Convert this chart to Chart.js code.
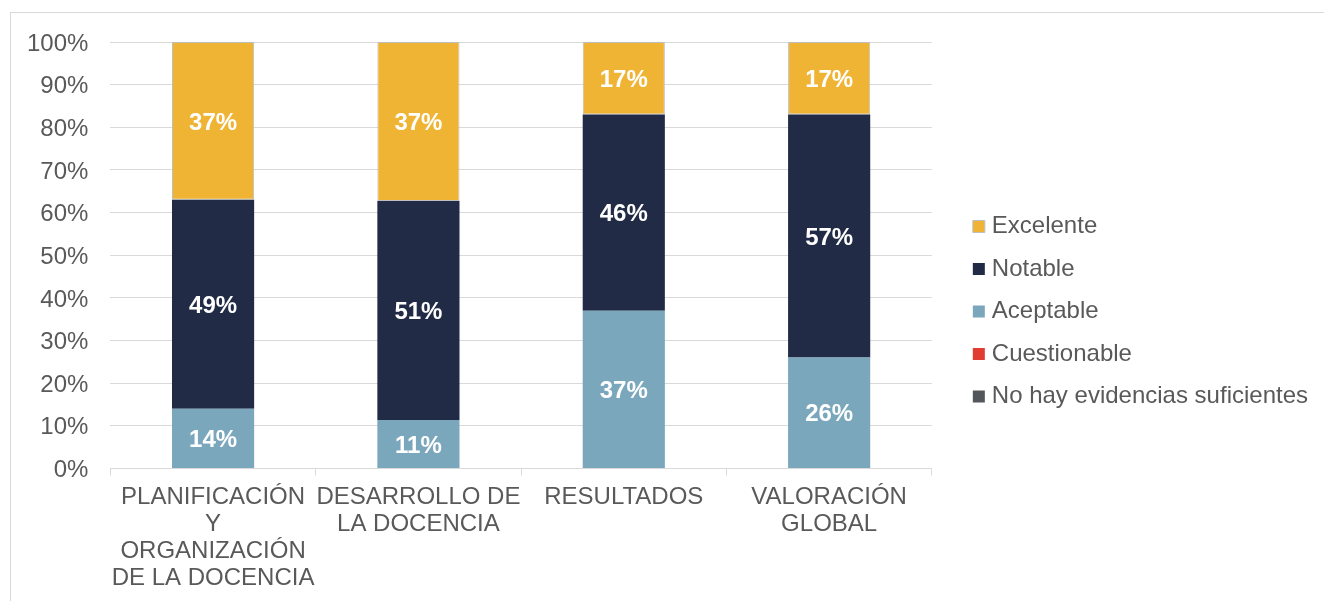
<!DOCTYPE html>
<html>
<head>
<meta charset="utf-8">
<script src="https://cdn.jsdelivr.net/npm/chart.js@4.4.1/dist/chart.umd.min.js"></script>
<style>
  body { margin: 0; background: #fff; }
  #frame { position: absolute; left: 10px; top: 12px; width: 1400px; height: 700px; border: 1px solid #d9d9d9; }
  #myChart { position: absolute; left: 0; top: 0; }
</style>
</head>
<body>
<div id="frame"></div>
<canvas id="myChart" width="1324" height="601"></canvas>
<script>
const categories = [
  ["PLANIFICACIÓN", "Y", "ORGANIZACIÓN", "DE LA DOCENCIA"],
  ["DESARROLLO DE", "LA DOCENCIA"],
  ["RESULTADOS"],
  ["VALORACIÓN", "GLOBAL"],
];
// percent of answers per level
const noHay = [0, 0, 0, 0];
const cuestionable = [0, 0, 0, 0];
const aceptable = [14, 11.4, 37, 26];
const notable = [49, 51.3, 46, 57];
const excelente = [37, 37.3, 17, 17];
const yTicks = [0, 10, 20, 30, 40, 50, 60, 70, 80, 90, 100];

const gray = "#595959";
const font = { family: "'Liberation Sans', Arial, sans-serif", size: 24 };

// white % labels in the middle of each segment
const barLabels = {
  id: "barLabels",
  afterDatasetsDraw(chart) {
    const ctx = chart.ctx;
    ctx.save();
    ctx.fillStyle = "#fff";
    ctx.font = "bold 24px 'Liberation Sans', Arial, sans-serif";
    ctx.textAlign = "center";
    ctx.textBaseline = "middle";
    chart.data.datasets.forEach((ds, i) => {
      const meta = chart.getDatasetMeta(i);
      meta.data.forEach((bar, j) => {
        const v = ds.data[j];
        if (!v) return;
        ctx.fillText(Math.round(v) + "%", bar.x, (bar.y + bar.base) / 2 + 2);
      });
    });
    ctx.restore();
  },
};

const ctx = document.getElementById("myChart");
new Chart(ctx, {
  type: "bar",
  data: {
    labels: categories,
    datasets: [
      { label: "No hay evidencias suficientes", data: noHay, backgroundColor: "#53565a", borderWidth: 0 },
      { label: "Cuestionable", data: cuestionable, backgroundColor: "#e03c31", borderWidth: 0 },
      { label: "Aceptable", data: aceptable, backgroundColor: "#7ba7bd", borderWidth: 0 },
      { label: "Notable", data: notable, backgroundColor: "#212b46", borderWidth: 0 },
      { label: "Excelente", data: excelente, backgroundColor: "#f0b434", borderColor: "#bfbfbf", borderWidth: 1, borderSkipped: false },
    ],
  },
  options: {
    responsive: false,
    animation: false,
    barPercentage: 0.4,
    categoryPercentage: 1,
    layout: { padding: { top: 22.5, left: 5, right: 6, bottom: 0.5 } },
    plugins: {
      tooltip: { enabled: false },
      // empty spacer above the plot only (keeps the legend centred like the original)
      title: { display: true, text: "", fullSize: false, padding: 0, font: { size: 10, lineHeight: 1.95 } },
      legend: {
        position: "right",
        reverse: true,
        maxWidth: 420,
        labels: {
          usePointStyle: true,
          pointStyle: "rect",
          boxWidth: 2,
          boxHeight: 12,
          padding: 18.5,
          color: gray,
          font: font,
        },
      },
    },
    scales: {
      x: {
        stacked: true,
        grid: { offset: true, drawOnChartArea: false, drawTicks: true, tickLength: 7, color: "#d9d9d9" },
        border: { color: "#d9d9d9" },
        ticks: { color: gray, font: { ...font, lineHeight: 27 / 24 }, padding: 8.5, maxRotation: 0, autoSkip: false },
        afterFit: (s) => { s.paddingLeft = 0; s.paddingRight = 0; },
      },
      y: {
        stacked: true,
        min: 0,
        max: 100,
        afterBuildTicks: (s) => { s.ticks = yTicks.map((v) => ({ value: v })); },
        grid: { color: "#d9d9d9", drawTicks: false },
        border: { display: false },
        ticks: { color: gray, font: font, padding: 22, labelOffset: 2, callback: (v) => v + "%" },
      },
      gap: {
        position: "right",
        grid: { display: false },
        border: { display: false },
        ticks: { display: false },
        afterFit: (s) => { s.width = 27.5; },
      },
    },
  },
  plugins: [barLabels],
});
</script>
</body>
</html>
